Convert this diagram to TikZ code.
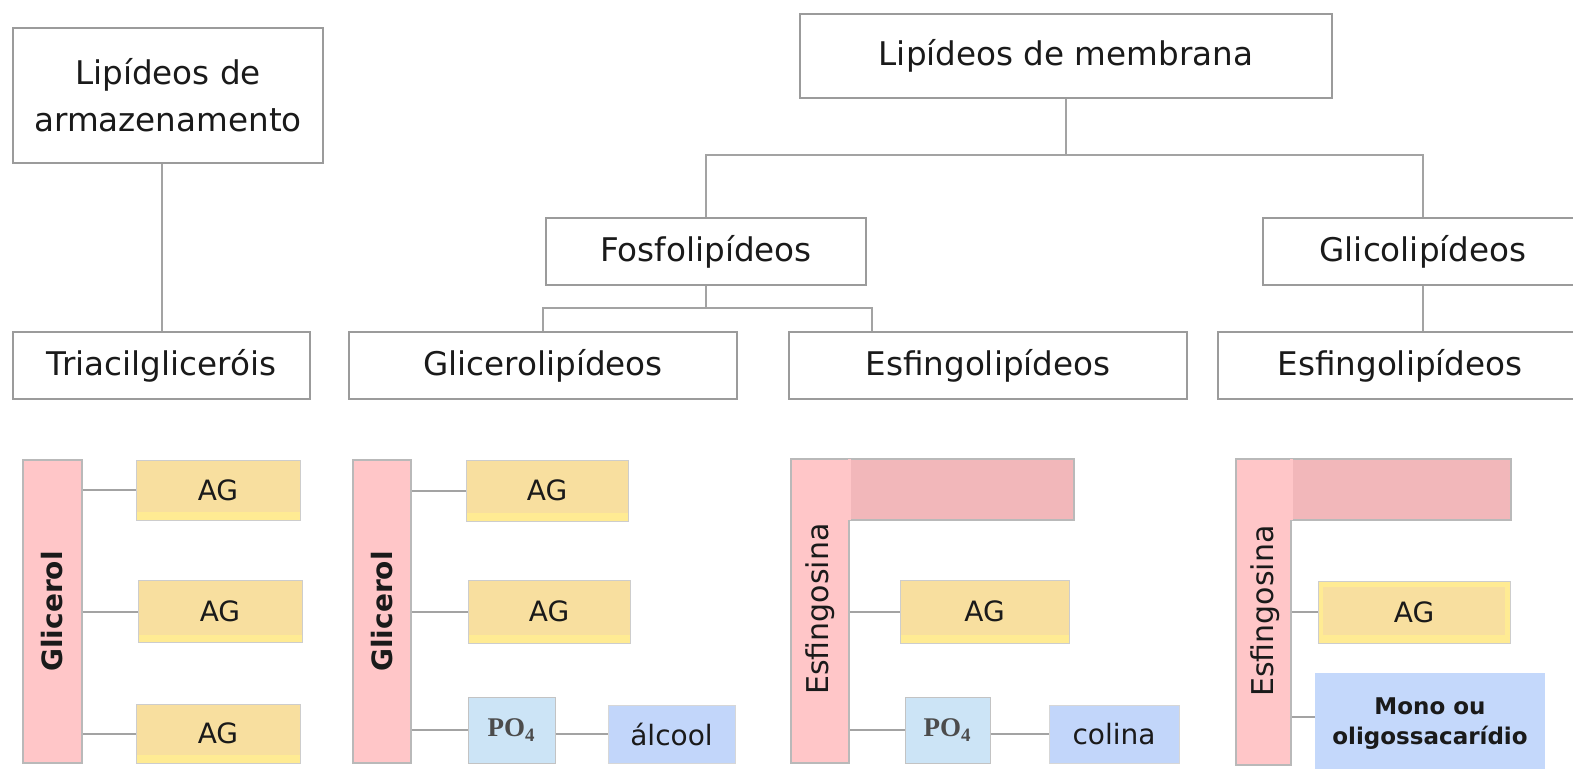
\documentclass[tikz,border=0pt]{standalone}
\usepackage{fontspec}
\setmainfont{DejaVu Sans}
\newfontfamily\phosfont{Liberation Serif}
\definecolor{ink}{HTML}{1A1A1A}
\definecolor{boxgray}{HTML}{9B9B9B}
\definecolor{linkgray}{HTML}{A3A3A3}
\definecolor{pinkA}{HTML}{FFC6C8}
\definecolor{pinkB}{HTML}{F2B7BA}
\definecolor{agfill}{HTML}{F8DF9F}
\definecolor{agstrip}{HTML}{FFEB93}
\definecolor{phosfill}{HTML}{CCE4F6}
\definecolor{alcfill}{HTML}{C2D6FA}
\definecolor{sugarfill}{HTML}{C4D8FB}

\begin{document}
\begin{tikzpicture}[x=0.5pt,y=-0.5pt]
    \tikzset{wh/.style 2 args = {minimum width=#1*0.5pt, minimum height=#2*0.5pt}}
    \tikzset{box/.style = {draw=boxgray, line width=1pt, fill=white, inner sep=0pt, text=ink, font=\fontsize{16.3}{20}\selectfont}}
    \tikzset{link/.style = {draw=linkgray, line width=1pt}}
    \tikzset{bar/.style = {draw=boxgray!70, line width=0.6pt, fill=pinkA, inner sep=0pt}}
    \tikzset{barside/.style = {bar, fill=pinkB}}
    \tikzset{bartext/.style = {rotate=90, text=ink, font=\fontsize{14}{16}\selectfont\bfseries}}
    \tikzset{ag/.style = {draw=boxgray!50, line width=0.5pt, fill=agfill, inner sep=0pt, text=ink, font=\fontsize{14}{16}\selectfont,
        path picture={\fill[agstrip] (path picture bounding box.south west) rectangle ([yshift=4pt]path picture bounding box.south east);}}}
    \tikzset{agbright/.style = {ag, fill=agstrip,
        path picture={\fill[agfill] ([xshift=2.5pt,yshift=4pt]path picture bounding box.south west) rectangle ([xshift=-2.5pt,yshift=-3pt]path picture bounding box.north east);}}}
    \tikzset{phos/.style = {draw=boxgray!60, line width=0.5pt, fill=phosfill, inner sep=0pt, text=black!70, font=\fontsize{13.5}{15}\selectfont\phosfont\bfseries}}
    \tikzset{alc/.style = {draw=boxgray!40, line width=0.5pt, fill=alcfill, inner sep=0pt, text=ink, font=\fontsize{14}{16}\selectfont}}

    \useasboundingbox (0,0) rectangle (1573,768);
    \clip (0,0) rectangle (1573,768);

    % classes
    \node[box, wh={310}{135}, align=center, font=\fontsize{16.3}{23.5}\selectfont] (armaz) at (168,95.5) {Lipídeos de\\armazenamento};
    \node[box, wh={532}{84}] (membr) at (1066,56) {Lipídeos de membrana};
    \node[box, wh={320}{67}] (fosfo) at (706,251.5) {Fosfolipídeos};
    \node[box, wh={320}{67}] (glico) at (1423,251.5) {Glicolipídeos};
    \node[box, wh={297}{67}] (triac) at (161.5,365.5) {Triacilgliceróis};
    \node[box, wh={388}{67}] (glicer) at (543,365.5) {Glicerolipídeos};
    \node[box, wh={398}{67}] (esfA) at (988,365.5) {Esfingolipídeos};
    \node[box, wh={364}{67}] (esfB) at (1400,365.5) {Esfingolipídeos};

    % tree lines
    \coordinate (jm) at (1066,155);
    \coordinate (jf) at (706,308);
    \draw[link] (triac.north |- armaz.south) -- (triac.north);
    \draw[link] (membr.south) -- (jm);
    \draw[link] (fosfo.north) |- (jm) -| (glico.north);
    \draw[link] (fosfo.south) -- (jf);
    \draw[link] (glicer.north) |- (jf) -| ([xshift=42pt]esfA.north west);
    \draw[link] (glico.south) -- (glico.south |- esfB.north);

    % triacilglicerol
    \node[bar, wh={59}{303}] (gA) at (52.5,611.5) {};
    \node[bartext] at (gA) {Glicerol};
    \node[ag, wh={164}{60}] (agA1) at (218,490) {AG};
    \node[ag, wh={164}{62}] (agA2) at (220,611.5) {AG};
    \node[ag, wh={164}{59}] (agA3) at (218,733.5) {AG};
    \foreach \n in {agA1,agA2,agA3}
        \draw[link] (\n.west -| gA.east) -- (\n.west);

    % glicerolipideo
    \node[bar, wh={58}{303}] (gB) at (382,611.5) {};
    \node[bartext] at (gB) {Glicerol};
    \node[ag, wh={162}{61}] (agB1) at (547,490.5) {AG};
    \node[ag, wh={162}{63}] (agB2) at (549,611.5) {AG};
    \node[phos, wh={87}{66}] (poB) at (511.5,730) {PO\textsubscript{4}};
    \node[alc, wh={127}{58}] (alcool) at (671.5,734) {álcool};
    \foreach \n in {agB1,agB2,poB}
        \draw[link] (\n.west -| gB.east) -- (\n.west);
    \draw[link] (alcool.west -| poB.east) -- (alcool.west);

    % esfingolipideo (fosfo)
    \node[barside, wh={283}{61}] (sAh) at (932.5,489.5) {};
    \node[bar, wh={58}{304}] (sA) at (820,611) {};
    \fill[pinkA] ([xshift=-0.9pt,yshift=-0.35pt]sA.north east) rectangle ([xshift=0.5pt,yshift=0.35pt]sA.east |- sAh.south);
    \node[bartext, font=\fontsize{15}{17}\selectfont] at (820,609) {Esfingosina};
    \node[ag, wh={169}{63}] (agC) at (984.5,611.5) {AG};
    \node[phos, wh={85}{66}] (poC) at (947.5,730) {PO\textsubscript{4}};
    \node[alc, wh={130}{58}] (colina) at (1114,734) {colina};
    \foreach \n in {agC,poC}
        \draw[link] (\n.west -| sA.east) -- (\n.west);
    \draw[link] (colina.west -| poC.east) -- (colina.west);

    % esfingolipideo (glico)
    \node[barside, wh={275}{61}] (sBh) at (1373.5,489.5) {};
    \node[bar, wh={55}{306}] (sB) at (1263.5,612) {};
    \fill[pinkA] ([xshift=-0.9pt,yshift=-0.35pt]sB.north east) rectangle ([xshift=0.5pt,yshift=0.35pt]sB.east |- sBh.south);
    \node[bartext, font=\fontsize{15}{17}\selectfont] at (1265,611) {Esfingosina};
    \node[agbright, wh={192}{62}] (agD) at (1414,612) {AG};
    \node[alc, draw=none, fill=sugarfill, wh={230}{102}, align=center, font=\fontsize{11.5}{15}\selectfont\bfseries] (sugar) at (1430,724) {Mono ou\\oligossacarídio};
    \draw[link] (agD.west -| sB.east) -- (agD.west);
    \draw[link] ([yshift=3.5pt]sugar.west -| sB.east) -- ([yshift=3.5pt]sugar.west);
\end{tikzpicture}
\end{document}
